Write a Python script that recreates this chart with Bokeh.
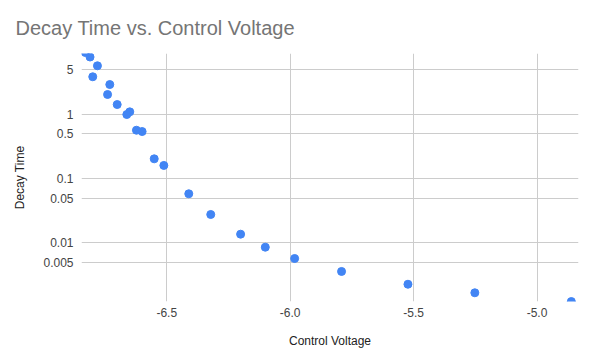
from bokeh.plotting import figure
from bokeh.models import ColumnDataSource, Range1d, FixedTicker, CustomJSTickFormatter
from bokeh.embed import file_html
from bokeh.resources import INLINE

control_voltage = [-6.830, -6.811, -6.781, -6.800, -6.731, -6.740, -6.701, -6.650, -6.662,
                   -6.623, -6.600, -6.551, -6.512, -6.411, -6.322, -6.201, -6.101, -5.982,
                   -5.792, -5.523, -5.252, -4.861]
decay_time = [9.24, 7.86, 5.74, 3.87, 2.93, 2.05, 1.43, 1.10, 1.00,
              0.569, 0.543, 0.204, 0.161, 0.0582, 0.0277, 0.01367, 0.00857, 0.00571,
              0.00359, 0.00227, 0.00167, 0.00122]
x_ticks = [-6.5, -6.0, -5.5, -5.0]
y_ticks = [0.005, 0.01, 0.05, 0.1, 0.5, 1, 5]

FONT = "Liberation Sans"

source = ColumnDataSource(data=dict(x=control_voltage, y=decay_time))

p = figure(width=590, height=361, output_backend="svg", toolbar_location=None,
           y_axis_type="log",
           x_range=Range1d(-6.8456, -4.832), y_range=Range1d(0.001222, 8.92),
           min_border_left=81, min_border_right=12, min_border_top=53, min_border_bottom=60)

p.scatter("x", "y", source=source, size=8, color="#4285F4", line_color="#4285F4")

p.title.text = "Decay Time vs. Control Voltage"
p.title.text_font = FONT
p.title.text_font_size = "20px"
p.title.text_font_style = "normal"
p.title.text_color = "#757575"
p.title.offset = -66
p.title.standoff = 29

p.outline_line_color = None
p.background_fill_color = "white"
p.border_fill_color = "white"

p.xaxis.ticker = FixedTicker(ticks=x_ticks, minor_ticks=[])
p.yaxis.ticker = FixedTicker(ticks=y_ticks, minor_ticks=[])
p.xaxis.formatter = CustomJSTickFormatter(code="return tick.toFixed(1);")
p.yaxis.formatter = CustomJSTickFormatter(code="return String(tick);")

for ax in (p.xaxis, p.yaxis):
    ax.axis_line_color = None
    ax.major_tick_line_color = None
    ax.minor_tick_line_color = None
    ax.major_tick_out = 0
    ax.major_tick_in = 0
    ax.minor_tick_out = 0
    ax.minor_tick_in = 0
    ax.major_label_text_font = FONT
    ax.major_label_text_font_size = "12px"
    ax.major_label_text_color = "#444444"
    ax.axis_label_text_font = FONT
    ax.axis_label_text_font_size = "12px"
    ax.axis_label_text_font_style = "normal"
    ax.axis_label_text_color = "#222222"

p.xaxis.axis_label = "Control Voltage"
p.yaxis.axis_label = "Decay Time"
p.xaxis.major_label_standoff = 6
p.xaxis.axis_label_standoff = 14
p.yaxis.major_label_standoff = 8
p.yaxis.axis_label_standoff = 13

p.xgrid.grid_line_color = "#cccccc"
p.ygrid.grid_line_color = "#cccccc"

open("out.html", "w").write(file_html(p, INLINE))
